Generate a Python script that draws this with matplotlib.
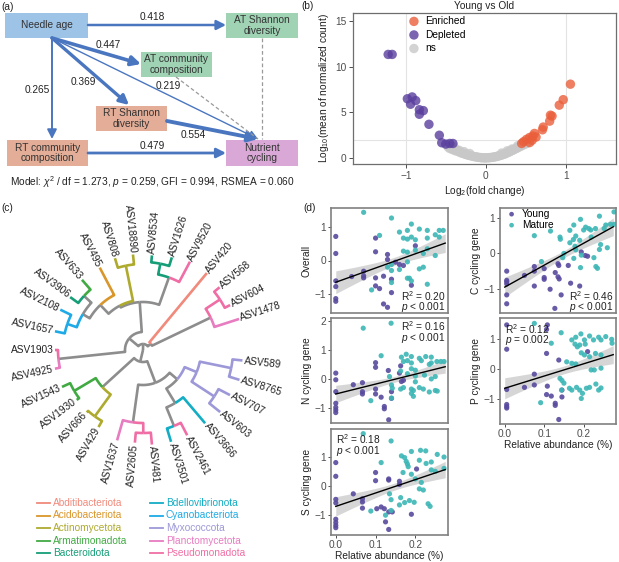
import numpy as np
import matplotlib
matplotlib.use('Agg')
import matplotlib.pyplot as plt
from matplotlib.patches import Rectangle

plt.rcParams['font.family'] = ['Liberation Sans', 'DejaVu Sans']
plt.rcParams['mathtext.fontset'] = 'custom'
plt.rcParams['mathtext.rm'] = 'Liberation Sans'
plt.rcParams['mathtext.it'] = 'Liberation Sans:italic'
plt.rcParams['mathtext.bf'] = 'Liberation Sans:bold'
FS = 7.3

# ---------------- data ----------------
# (a) path model coefficients
path_coef = [0.418, 0.447, 0.369, 0.219, 0.265, 0.554, 0.479]
model_text = r'Model: $\chi^2$ / df = 1.273, $p$ = 0.259, GFI = 0.994, RSMEA = 0.060'

# (b) volcano
ns_x = [-0.47, -0.45, -0.43, -0.42, -0.40, -0.38, -0.37, -0.35, -0.33, -0.31, -0.30, -0.28, -0.26, -0.25,
        -0.23, -0.21, -0.20, -0.18, -0.16, -0.15, -0.13, -0.11, -0.10, -0.08, -0.06, -0.05, -0.03, -0.01,
        0.0, 0.02, 0.04, 0.05, 0.07, 0.09, 0.10, 0.12, 0.14, 0.15, 0.17, 0.19, 0.20, 0.22, 0.24, 0.25,
        0.27, 0.29, 0.30, 0.32, 0.34, 0.35, 0.37, 0.39, 0.40, 0.42, 0.44, 0.46, 0.48, 0.50, 0.52,
        -0.40, -0.33, -0.27, -0.20, 0.20, 0.27, 0.33, 0.40, 0.46]
ns_y = [1.20, 1.05, 1.15, 0.95, 0.90, 0.80, 0.95, 0.75, 0.65, 0.60, 0.55, 0.50, 0.45, 0.40,
        0.35, 0.30, 0.28, 0.24, 0.20, 0.17, 0.14, 0.11, 0.09, 0.07, 0.05, 0.04, 0.03, 0.02,
        0.02, 0.03, 0.04, 0.05, 0.07, 0.09, 0.11, 0.14, 0.18, 0.21, 0.25, 0.30, 0.34, 0.40, 0.45, 0.50,
        0.58, 0.65, 0.70, 0.78, 0.86, 0.92, 1.00, 1.08, 1.15, 1.22, 1.30, 1.40, 1.48, 1.55, 1.62,
        1.25, 0.85, 0.70, 0.50, 0.55, 0.80, 1.00, 1.35, 1.65]
dep_x = [-1.22, -1.17, -0.98, -0.92, -0.94, -0.875, -0.83, -0.78, -0.83, -0.71, -0.58, -0.55, -0.50, -0.45, -0.41]
dep_y = [11.36, 11.36, 6.5, 6.7, 5.9, 6.3, 5.3, 5.2, 4.8, 3.7, 2.5, 1.68, 1.53, 1.6, 1.6]
enr_x = [1.06, 0.97, 0.92, 0.81, 0.83, 0.80, 0.72, 0.71, 0.61, 0.59, 0.55, 0.51, 0.475, 0.45, 0.63, 0.58, 0.55]
enr_y = [8.1, 6.4, 5.8, 4.7, 4.6, 4.05, 3.4, 3.1, 2.7, 2.4, 2.26, 2.05, 1.8, 1.6, 2.3, 1.95, 1.7]

# (c) tree leaves: angle (deg), tip radius, phylum
leaf_angle = {'ASV1543': -155.5, 'ASV1930': -143, 'ASV666': -132, 'ASV429': -120, 'ASV1637': -106,
              'ASV2605': -95, 'ASV481': -84.6, 'ASV3501': -73, 'ASV2461': -62.6, 'ASV3666': -49.7,
              'ASV603': -38.8, 'ASV707': -27.4, 'ASV8765': -17.2, 'ASV589': -6, 'ASV1478': 17.9,
              'ASV604': 27.3, 'ASV568': 39.3, 'ASV420': 50.3, 'ASV9520': 62, 'ASV1626': 72.7,
              'ASV8534': 84.6, 'ASV18890': 96, 'ASV808': 107, 'ASV495': 117.7, 'ASV633': 131,
              'ASV3906': 144, 'ASV2108': 154, 'ASV1657': 168, 'ASV1903': 180, 'ASV4925': 192}
leaf_r = {'ASV1543': 89, 'ASV1930': 83, 'ASV666': 84, 'ASV429': 89, 'ASV1637': 94,
          'ASV2605': 93, 'ASV481': 95, 'ASV3501': 96, 'ASV2461': 96, 'ASV3666': 96,
          'ASV603': 99, 'ASV707': 98, 'ASV8765': 101, 'ASV589': 100, 'ASV1478': 101,
          'ASV604': 98, 'ASV568': 99, 'ASV420': 100, 'ASV9520': 100, 'ASV1626': 97,
          'ASV8534': 95, 'ASV18890': 96, 'ASV808': 96, 'ASV495': 93, 'ASV633': 93,
          'ASV3906': 90, 'ASV2108': 92, 'ASV1657': 90, 'ASV1903': 88, 'ASV4925': 90}
phylum = {'ASV1543': 'Armatimonadota', 'ASV1930': 'Armatimonadota', 'ASV666': 'Actinomycetota',
          'ASV429': 'Actinomycetota', 'ASV1637': 'Planctomycetota', 'ASV2605': 'Pseudomonadota',
          'ASV481': 'Pseudomonadota', 'ASV3501': 'Bdellovibrionota', 'ASV2461': 'Pseudomonadota',
          'ASV3666': 'Bdellovibrionota', 'ASV603': 'Myxococcota', 'ASV707': 'Myxococcota',
          'ASV8765': 'Myxococcota', 'ASV589': 'Myxococcota', 'ASV1478': 'Planctomycetota',
          'ASV604': 'Pseudomonadota', 'ASV568': 'Pseudomonadota', 'ASV420': 'Abditibacteriota',
          'ASV9520': 'Pseudomonadota', 'ASV1626': 'Bacteroidota', 'ASV8534': 'Bacteroidota',
          'ASV18890': 'Actinomycetota', 'ASV808': 'Actinomycetota', 'ASV495': 'Acidobacteriota',
          'ASV633': 'Armatimonadota', 'ASV3906': 'Bacteroidota', 'ASV2108': 'Cyanobacteriota',
          'ASV1657': 'Cyanobacteriota', 'ASV1903': 'Pseudomonadota', 'ASV4925': 'Planctomycetota'}
# tree topology: (node radius, [children])
tree = (0, [
    (12, [
        (55, [(80, ['ASV1543', 'ASV1930']), (82, ['ASV666', 'ASV429'])]),
        (35, [
            (73, ['ASV1637', (83, ['ASV2605', 'ASV481'])]),
            (45, [
                (62, [(82, ['ASV3501', 'ASV2461']), 'ASV3666']),
                (58, [(85, ['ASV603', 'ASV707']), (90, ['ASV8765', 'ASV589'])]),
            ]),
        ]),
    ]),
    (6, [
        (10, [(75, ['ASV1478', (92, ['ASV604', 'ASV568'])]), 'ASV420']),
        (18, [
            (48, [
                (77, ['ASV9520', (88, ['ASV1626', 'ASV8534'])]),
                (50, [(86, ['ASV18890', 'ASV808']),
                      (62, ['ASV495', (70, [(80, ['ASV633', 'ASV3906']),
                                            (80, ['ASV2108', 'ASV1657'])])])]),
            ]),
            (85, ['ASV1903', 'ASV4925']),
        ]),
    ]),
])
phyla = ['Abditibacteriota', 'Acidobacteriota', 'Actinomycetota', 'Armatimonadota', 'Bacteroidota',
         'Bdellovibrionota', 'Cyanobacteriota', 'Myxococcota', 'Planctomycetota', 'Pseudomonadota']
phylum_colors = ['#f08a7c', '#d9962b', '#aeaa2e', '#41aa43', '#169e78',
                 '#13adc4', '#1eaae6', '#9d98d8', '#e77cc1', '#f06ea6']

# (d) scatter data (relative abundance %, standardized value)
overall_young = [(0, 0.72), (0, 0.21), (0, -0.61), (0, -0.78), (0, -1.14), (0, -1.22), (0.04, -0.48),
                 (0.07, -0.32), (0.07, -0.46), (0.07, -0.52), (0.10, 0.67), (0.10, 0.26), (0.10, -0.52),
                 (0.10, -0.76), (0.11, -0.84), (0.12, -0.47), (0.12, -1.3), (0.13, 0.18), (0.13, 0.03),
                 (0.13, -1.4), (0.14, -0.56), (0.14, -0.96), (0.16, -0.12), (0.17, -0.15), (0.19, -0.74),
                 (0.20, 0.44), (0.15, -0.05)]
overall_mature = [(0.07, 1.44), (0.14, 1.27), (0.11, 0.75), (0.09, -0.88), (0.14, -0.12), (0.14, -0.66),
                  (0.13, -0.2), (0.16, 0.85), (0.18, 0.9), (0.19, 1.09), (0.21, 0.94), (0.23, 0.9),
                  (0.26, 0.9), (0.27, 0.9), (0.17, 0.67), (0.18, 0.64), (0.19, 0.7), (0.20, 0.62),
                  (0.23, 0.67), (0.25, 0.77), (0.26, 0.7), (0.17, 0.28), (0.18, 0.25), (0.20, 0.31),
                  (0.22, 0.21), (0.23, 0.35), (0.25, 0.15), (0.18, -0.04), (0.16, -0.27), (0.21, -0.25),
                  (0.22, -0.2), (0.18, -0.53), (0.185, -0.53), (0.19, -0.61), (0.23, -0.71), (0.14, -0.3)]
c_young = [(0.005, -0.5), (0.005, -0.76), (0.005, -0.8), (0.005, -0.86), (0.005, -1.17), (0.005, -1.42),
           (0.05, -0.62), (0.075, -0.37), (0.075, -0.5), (0.075, -0.92), (0.10, -0.43), (0.10, -0.68),
           (0.10, -0.73), (0.115, -1.01), (0.128, -0.54), (0.135, -0.29), (0.137, -0.34), (0.135, -0.66),
           (0.138, -0.72), (0.143, -1.17), (0.127, -1.55), (0.161, -0.34), (0.167, -0.84), (0.19, -0.92),
           (0.204, -0.06), (0.21, -0.08), (0.194, 0.04)]
c_mature = [(0.075, 0.5), (0.116, 0.63), (0.093, -0.23), (0.14, 0.46), (0.141, 0.4), (0.165, 0.65),
            (0.175, 0.8), (0.18, 0.49), (0.192, 0.96), (0.205, 0.74), (0.213, 0.7), (0.218, 0.66),
            (0.20, 0.66), (0.174, 0.39), (0.165, 0.3), (0.178, 0.2), (0.19, 0.37), (0.219, 0.46),
            (0.23, 0.7), (0.24, 1.05), (0.252, 0.7), (0.256, 0.8), (0.268, 0.82), (0.277, 1.17),
            (0.277, 0.82), (0.147, -0.12), (0.15, 0.0), (0.175, -0.14), (0.18, 0.1), (0.192, -0.4),
            (0.194, -0.05), (0.226, -0.12), (0.231, -0.37), (0.235, -0.42), (0.24, 0.11), (0.243, 0.25),
            (0.26, 0.16)]
n_young = [(0, 0.2), (0, -0.03), (0, -0.44), (0, -0.84), (0, -0.98), (0, -1.07), (0, -1.16),
           (0.044, -0.2), (0.067, -0.13), (0.067, -0.44), (0.067, -0.52), (0.1, 0.56), (0.1, 0.4),
           (0.132, 0.29), (0.16, 0.2), (0.1, -0.35), (0.1, -0.52), (0.114, -0.63), (0.122, -0.95),
           (0.122, -1.03), (0.133, -1.41), (0.165, -0.09), (0.17, -0.05), (0.163, 0.45), (0.14, -0.44),
           (0.14, -0.67)]
n_mature = [(0.069, 1.75), (0.139, 1.92), (0.114, 0.8), (0.165, 0.75), (0.177, 0.85), (0.19, 0.77),
            (0.17, 0.6), (0.18, 0.63), (0.19, 0.55), (0.21, 0.71), (0.215, 0.63), (0.226, 0.77),
            (0.24, 0.75), (0.254, 0.6), (0.264, 0.6), (0.272, 0.6), (0.235, 0.5), (0.24, 0.55),
            (0.19, 0.35), (0.2, 0.3), (0.163, 0.27), (0.18, 0.18), (0.223, 0.13), (0.2, 0.1),
            (0.135, 0.08), (0.14, -0.21), (0.142, -0.32), (0.163, -0.35), (0.17, -0.3), (0.19, -0.35),
            (0.195, -0.4), (0.21, -0.3), (0.22, -0.35), (0.235, -0.45), (0.25, -0.4), (0.255, -0.42),
            (0.24, 0.0), (0.25, 0.08), (0.2, -0.1), (0.14, -0.66), (0.088, -0.75), (0.19, -0.5),
            (0.195, -0.6)]
s_young = [(0, 0.8), (0, 0.33), (0, -0.46), (0, -0.58), (0, -1.14), (0, -1.25), (0, -1.35), (0, -1.43),
           (0.044, -0.27), (0.067, -0.44), (0.067, -0.55), (0.067, -0.76), (0.1, 0.46), (0.1, 0.18),
           (0.133, 0.24), (0.133, 0.2), (0.16, 0.16), (0.16, 0.05), (0.203, 0.58), (0.103, -0.78),
           (0.114, -0.72), (0.122, -0.78), (0.133, -0.89), (0.142, -0.89), (0.125, -1.23),
           (0.133, -1.49), (0.19, -0.97)]
s_mature = [(0.069, 1.79), (0.139, 1.54), (0.114, 0.8), (0.165, 1.03), (0.173, 0.97), (0.177, 0.84),
            (0.18, 0.75), (0.182, 0.66), (0.19, 1.18), (0.213, 1.22), (0.226, 1.2), (0.21, 0.88),
            (0.227, 0.77), (0.24, 0.82), (0.255, 1.08), (0.272, 0.99), (0.169, 0.46), (0.19, 0.4),
            (0.2, 0.24), (0.215, 0.12), (0.24, 0.55), (0.25, 0.5), (0.135, -0.27), (0.139, -0.47),
            (0.163, -0.4), (0.173, -0.57), (0.185, -0.5), (0.197, -0.56), (0.21, -0.1), (0.22, -0.14),
            (0.232, -0.61), (0.237, -0.7), (0.088, -0.86), (0.125, -1.0), (0.139, -0.84),
            (0.16, -0.65), (0.272, 0.6)]
p_young = [(0.005, 1.47), (0.005, 0.66), (0.005, -0.68), (0.005, -1.18), (0.005, -1.25), (0.005, -1.3),
           (0.05, -0.61), (0.075, -0.17), (0.075, -0.53), (0.108, 1.47), (0.106, 0.52), (0.108, -0.57),
           (0.106, -0.85), (0.118, -0.9), (0.128, -1.14), (0.128, -1.21), (0.137, 0.3), (0.145, -0.7),
           (0.145, -0.93), (0.137, -1.68), (0.21, 0.58), (0.106, 1.32)]
p_mature = [(0.075, 1.52), (0.118, 0.86), (0.143, 1.21), (0.17, 0.97), (0.18, 1.06), (0.193, 1.17),
            (0.202, 0.97), (0.215, 1.1), (0.225, 0.97), (0.238, 1.06), (0.244, 0.97), (0.256, 1.08),
            (0.271, 0.99), (0.272, 0.86), (0.178, 0.83), (0.184, 0.74), (0.19, 0.8), (0.204, 0.83),
            (0.194, 0.54), (0.202, 0.47), (0.215, 0.41), (0.23, 0.52), (0.244, 0.47), (0.157, 0.24),
            (0.17, 0.19), (0.18, 0.17), (0.219, -0.03), (0.227, -0.03), (0.244, 0.03), (0.14, -0.31),
            (0.145, -0.38), (0.164, -0.64), (0.17, -0.7), (0.182, -0.61), (0.19, -0.7), (0.197, -0.81),
            (0.207, -0.64), (0.215, -0.61), (0.194, -0.98), (0.231, -0.5), (0.244, -0.63),
            (0.238, -0.7), (0.091, -1.12), (0.15, -0.47), (0.144, -0.7)]
# fitted lines: (y at x=0, y at x=0.275), CI half widths (left, middle, right)
fits = {'Overall': ((-0.65, 0.52), (0.34, 0.12, 0.28)),
        'C': ((-0.95, 0.75), (0.28, 0.10, 0.25)),
        'N': ((-0.52, 0.42), (0.30, 0.10, 0.22)),
        'S': ((-0.70, 0.56), (0.33, 0.12, 0.28)),
        'P': ((-0.64, 0.48), (0.35, 0.13, 0.30))}
stats = {'Overall': ('0.20', '< 0.001'), 'C': ('0.46', '< 0.001'), 'N': ('0.16', '< 0.001'),
         'S': ('0.18', '< 0.001'), 'P': ('0.12', '= 0.002')}

# ---------------- figure ----------------
W, H = 619, 562
fig = plt.figure(figsize=(W / 100, H / 100), dpi=100)
ov = fig.add_axes([0, 0, 1, 1])
ov.set_xlim(0, W)
ov.set_ylim(H, 0)
ov.axis('off')

# panel labels
for lab, (x, y) in zip(['(a)', '(b)', '(c)', '(d)'], [(1, 7), (301, 6), (1, 208), (303, 208)]):
    ov.text(x, y, lab, fontsize=FS, ha='left', va='center', color='#222')

# ---------- (a) path model ----------
boxes = [('Needle age', (5, 13, 88, 38), '#9dc3e6'),
         ('AT Shannon\ndiversity', (226, 13, 298, 38), '#9fd3b4'),
         ('AT community\ncomposition', (141, 52, 212, 77), '#9fd3b4'),
         ('RT Shannon\ndiversity', (96, 106, 167, 131), '#e3ad97'),
         ('RT community\ncomposition', (7, 140, 88, 166), '#e3ad97'),
         ('Nutrient\ncycling', (226, 140, 298, 166), '#d9a8d6')]
for txt, (x0, y0, x1, y1), col in boxes:
    ov.add_patch(Rectangle((x0, y0), x1 - x0, y1 - y0, facecolor=col, edgecolor='none', zorder=1))
    ov.text((x0 + x1) / 2, (y0 + y1) / 2, txt, ha='center', va='center', fontsize=FS,
            color='#333333', linespacing=1.05, zorder=3)

arrow_geo = [((88, 25), (226, 25), 1.8, (152, 17)),
             ((52, 38), (141, 64), 2.6, (108, 45)),
             ((52, 38), (129, 105), 2.4, (83, 82)),
             ((52, 38), (258, 139), 1.0, (168, 86)),
             ((52, 38), (52, 139), 1.4, (37, 90)),
             ((167, 121), (258, 139), 2.8, (193, 135)),
             ((88, 153), (226, 153), 2.0, (152, 146))]
ablue = '#4a76c0'
for coef, (p0, p1, lw, lp) in zip(path_coef, arrow_geo):
    ov.annotate('', xy=p1, xytext=p0,
                arrowprops=dict(arrowstyle='-|>,head_length=0.55,head_width=0.28', color=ablue,
                                lw=lw, shrinkA=0, shrinkB=0, mutation_scale=10), zorder=2)
    ov.text(lp[0], lp[1], f'{coef:.3f}', ha='center', va='center', fontsize=FS, color='#222', zorder=3)
for p0, p1 in [((176, 77), (258, 139)), ((262, 38), (262, 139))]:
    ov.plot([p0[0], p1[0]], [p0[1], p1[1]], color='#9a9a9a', lw=0.9, ls=(0, (3, 2)), zorder=2)
ov.text(152, 182, model_text, ha='center', va='center', fontsize=FS, color='#222')

# ---------- (c) tree ----------
cx, cy = 143, 350
pcol = dict(zip(phyla, phylum_colors))
GRAY = '#8d8d8d'
LW = 1.9


def leaves_of(node):
    if isinstance(node, str):
        return [node]
    return [l for c in node[1] for l in leaves_of(c)]


def angle_of(node):
    if isinstance(node, str):
        return leaf_angle[node]
    return float(np.mean([angle_of(c) for c in node[1]]))


def radius_of(node):
    if isinstance(node, str):
        return leaf_r[node]
    return node[0]


def draw(node):
    if isinstance(node, str):
        return
    r0, a0 = node[0], angle_of(node)
    for c in node[1]:
        groups = {phylum[l] for l in leaves_of(c)}
        col = pcol[groups.pop()] if len(groups) == 1 else GRAY
        ac, rc = angle_of(c), radius_of(c)
        th = np.radians(np.linspace(a0, ac, 40))
        xs = list(cx + r0 * np.cos(th)) + [cx + rc * np.cos(np.radians(ac))]
        ys = list(cy - r0 * np.sin(th)) + [cy - rc * np.sin(np.radians(ac))]
        ov.plot(xs, ys, color=col, lw=LW, solid_capstyle='butt', solid_joinstyle='round', zorder=2)
        draw(c)


draw(tree)
for name, a in leaf_angle.items():
    r = leaf_r[name] + 1.5
    an = ((a + 180) % 360) - 180
    x, y = cx + r * np.cos(np.radians(a)), cy - r * np.sin(np.radians(a))
    if np.cos(np.radians(a)) >= 0:
        rot, ha = an, 'left'
    else:
        rot, ha = an - 180, 'right'
    ov.text(x, y, name, rotation=rot, rotation_mode='anchor', ha=ha, va='center',
            fontsize=FS, color='#222')

# tree legend
for i, (ph, col) in enumerate(zip(phyla, phylum_colors)):
    colx = 37 if i < 5 else 150
    yy = 503 + (i % 5) * 12.5
    ov.plot([colx, colx + 13], [yy, yy], color=col, lw=1.3)
    ov.text(colx + 16, yy, ph, color=col, fontsize=FS, ha='left', va='center')

# ---------- (b) volcano ----------
axb = fig.add_axes([353 / W, 1 - 164 / H, 263 / W, 151 / H])
for v in (-1, 1):
    axb.axvline(v, color='#e3e3e3', lw=0.8, zorder=0)
axb.axhline(2, color='#e3e3e3', lw=0.8, zorder=0)
axb.scatter(enr_x, enr_y, s=46, color='#ea5f3b', alpha=0.8, edgecolors='none', label='Enriched', zorder=3)
axb.scatter(dep_x, dep_y, s=46, color='#5a3f9e', alpha=0.8, edgecolors='none', label='Depleted', zorder=3)
axb.scatter(ns_x, ns_y, s=46, color='#c8c8c8', alpha=0.8, edgecolors='none', label='ns', zorder=2)
axb.set_xlim(-1.66, 1.63)
axb.set_ylim(-0.65, 15.9)
axb.set_xticks([-1, 0, 1])
axb.set_yticks([0, 5, 10, 15])
axb.tick_params(labelsize=FS, colors='#4d4d4d', length=3, width=0.7, pad=2)
for sp in axb.spines.values():
    sp.set_color('#6e6e6e')
    sp.set_linewidth(0.9)
axb.set_title('Young vs Old', fontsize=FS, pad=3, color='#222')
axb.set_xlabel(r'Log$_2$(fold change)', fontsize=FS, labelpad=2, color='#222')
axb.set_ylabel(r'Log$_{10}$(mean of normalized count)', fontsize=FS, labelpad=3, color='#222')
axb.legend(loc='upper left', bbox_to_anchor=(0.17, 1.02), frameon=False, fontsize=FS,
           handletextpad=0.1, labelspacing=0.35, borderaxespad=0.2, scatterpoints=1)

# ---------- (d) regressions ----------
YC, MC = '#594a9e', '#3db6b6'
panel_specs = [
    ('Overall', overall_young, overall_mature, [331, 208, 448, 313], (-1.57, 1.57), [-1, 0, 1], 'Overall', False, 'br'),
    ('N', n_young, n_mature, [331, 318, 448, 423], (-1.52, 2.1), [-1, 0, 1, 2], 'N cycling gene', False, 'tr'),
    ('S', s_young, s_mature, [331, 429, 448, 535], (-1.68, 1.95), [-1, 0, 1], 'S cycling gene', True, 'tl'),
    ('C', c_young, c_mature, [500, 208, 616, 313], (-1.68, 1.28), [-1, 0, 1], 'C cycling gene', False, 'br'),
    ('P', p_young, p_mature, [500, 318, 616, 424], (-1.83, 1.7), [-1, 0, 1], 'P cycling gene', True, 'tl'),
]
for key, yng, mat, (l, t, r, b), ylim, yt, ylab, showx, pos in panel_specs:
    ax = fig.add_axes([l / W, 1 - b / H, (r - l) / W, (b - t) / H])
    (y0, y1), (hl, hm, hr) = fits[key]
    xs = np.linspace(0, 0.275, 60)
    ys = y0 + (y1 - y0) * xs / 0.275
    xm = 0.15
    kl = (hl ** 2 - hm ** 2) / xm ** 2
    kr = (hr ** 2 - hm ** 2) / (0.275 - xm) ** 2
    hw = np.sqrt(hm ** 2 + np.where(xs < xm, kl, kr) * (xs - xm) ** 2)
    ax.fill_between(xs, ys - hw, ys + hw, color='#c9c9c9', alpha=0.75, lw=0, zorder=1)
    ax.scatter([p[0] for p in yng], [p[1] for p in yng], s=14, color=YC, alpha=0.9,
               edgecolors='none', zorder=2, label='Young')
    ax.scatter([p[0] for p in mat], [p[1] for p in mat], s=14, color=MC, alpha=0.9,
               edgecolors='none', zorder=2, label='Mature')
    ax.plot(xs, ys, color='black', lw=1.0, zorder=3)
    ax.set_xlim(-0.012, 0.282)
    ax.set_ylim(*ylim)
    ax.set_yticks(yt)
    ax.set_xticks([0, 0.1, 0.2])
    ax.tick_params(labelsize=FS, colors='#4d4d4d', length=2.2, width=0.7, pad=1.2)
    if showx:
        ax.set_xticklabels(['0.0', '0.1', '0.2'])
        ax.set_xlabel('Relative abundance (%)', fontsize=FS, labelpad=1, color='#222')
    else:
        ax.tick_params(axis='x', length=0, labelbottom=False)
    ax.set_ylabel(ylab, fontsize=FS, labelpad=2, color='#222')
    for sp in ax.spines.values():
        sp.set_color('#808080')
        sp.set_linewidth(1.2)
    r2, pv = stats[key]
    if pos == 'br':
        tx, ha, ty1, ty2 = 0.975, 'right', 0.165, 0.055
    elif pos == 'tr':
        tx, ha, ty1, ty2 = 0.975, 'right', 0.92, 0.81
    else:
        tx, ha, ty1, ty2 = 0.045, 'left', 0.9, 0.79
    ax.text(tx, ty1, r'R$^2$ = ' + r2, transform=ax.transAxes, ha=ha, va='center', fontsize=FS, color='#222')
    ax.text(tx, ty2, r'$p$ ' + pv, transform=ax.transAxes, ha=ha, va='center', fontsize=FS, color='#222')
    if key == 'C':
        ax.legend(loc='upper left', bbox_to_anchor=(-0.04, 1.05), frameon=False, fontsize=FS,
                  handletextpad=0.0, labelspacing=0.1, borderaxespad=0.2, markerscale=0.9)

fig.savefig('out.png', dpi=100)
